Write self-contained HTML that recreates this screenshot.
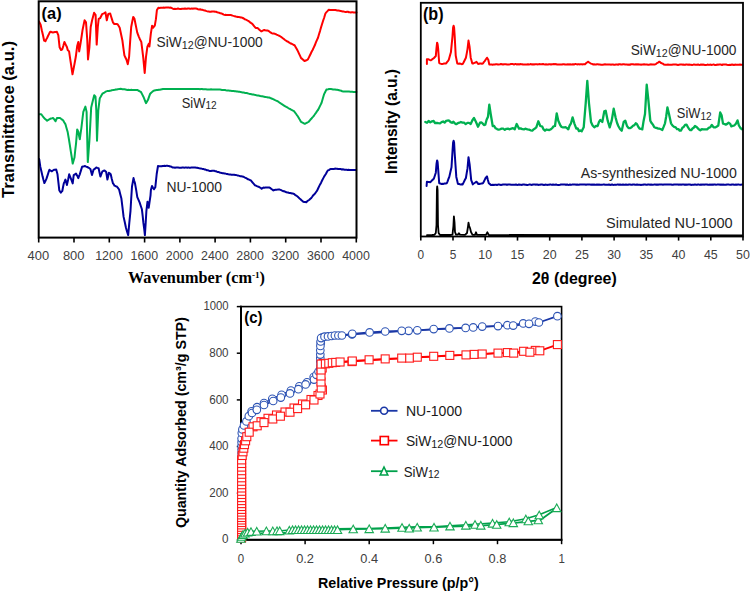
<!DOCTYPE html>
<html><head><meta charset="utf-8"><style>
html,body{margin:0;padding:0;background:#fff;width:750px;height:592px;overflow:hidden;font-family:"Liberation Sans",sans-serif;}
</style></head><body>
<svg width="750" height="592" viewBox="0 0 750 592" style="position:absolute;left:0;top:0">
<rect width="750" height="592" fill="#fff"/>
<polyline points="39.1,21.6 39.9,23.2 40.7,25.0 41.8,30.2 43.0,35.3 44.1,40.5 45.4,41.2 46.3,39.4 47.2,37.7 48.1,35.8 49.2,33.6 50.2,31.8 51.1,31.8 52.0,32.3 52.9,32.4 53.9,32.2 54.9,32.0 55.9,32.1 56.9,31.8 58.3,35.1 59.6,47.3 61.0,50.0 62.3,49.3 63.4,45.6 64.4,41.9 65.7,44.6 67.0,47.3 67.7,50.0 69.1,51.4 70.1,58.3 71.1,64.9 72.5,74.3 73.8,67.6 74.8,62.2 75.8,56.8 77.2,45.9 78.3,41.9 79.2,51.4 80.6,43.2 81.6,36.5 82.6,29.7 83.6,24.9 84.6,20.3 86.0,22.3 87.3,40.5 88.0,59.5 89.4,47.3 90.7,27.0 92.1,20.3 93.1,16.6 94.1,12.8 94.8,14.0 95.6,14.9 96.7,44.6 97.8,27.0 98.7,18.9 100.1,18.2 101.1,16.2 102.1,14.2 103.2,13.7 104.4,13.1 105.5,12.4 106.8,20.3 108.2,14.2 109.2,13.7 110.2,13.5 111.1,16.5 112.0,19.4 112.9,22.3 114.3,24.0 115.4,24.0 116.5,24.0 117.6,24.3 118.7,26.1 119.7,27.7 120.6,32.0 121.5,36.3 122.4,40.5 123.4,48.1 124.4,55.4 125.4,57.5 126.4,59.5 127.8,64.2 129.1,56.8 130.1,42.1 131.2,27.0 132.2,21.9 133.2,16.9 134.5,18.9 135.4,23.5 136.3,27.9 137.2,32.4 138.1,34.8 139.0,37.1 139.9,39.2 141.3,41.9 142.3,49.8 143.3,58.1 144.7,73.0 146.0,56.8 147.4,46.6 148.7,43.9 149.4,46.6 150.8,33.8 152.1,25.7 153.2,27.7 154.0,26.5 154.8,25.6 155.9,19.2 156.9,10.1 157.7,8.8 158.5,7.7 159.6,7.9 160.7,7.7 161.7,7.8 162.8,7.7 163.8,7.6 164.8,7.7 165.8,7.6 166.8,7.5 167.8,7.6 168.8,7.6 169.8,7.7 170.8,7.5 171.9,8.2 172.9,8.7 173.9,8.9 174.9,8.8 175.9,8.9 176.9,8.8 178.0,8.6 179.0,8.8 180.0,8.9 181.0,8.9 182.0,8.7 183.0,8.7 184.0,8.8 185.0,8.5 185.9,8.8 186.9,8.7 187.9,8.5 188.9,8.4 189.9,8.7 190.9,8.8 191.8,8.4 192.8,8.7 193.8,8.5 194.8,8.5 195.9,8.6 196.9,8.8 198.0,9.2 199.1,9.4 200.1,9.3 201.2,9.7 202.2,9.7 203.3,10.1 204.4,10.5 205.4,10.6 206.5,11.1 207.6,11.4 208.6,11.4 209.7,11.7 210.8,11.8 211.8,11.5 212.9,11.4 214.0,11.5 215.1,11.8 216.1,11.8 217.2,12.2 218.2,12.5 219.3,12.8 220.4,13.3 221.5,13.5 222.5,13.9 223.6,14.6 224.7,14.9 225.6,14.8 226.6,15.1 227.6,15.1 228.5,14.9 229.4,14.9 230.4,14.9 231.5,15.2 232.6,15.6 233.6,15.9 234.7,16.2 235.8,16.5 236.8,16.7 237.8,17.0 238.9,17.1 239.9,17.2 240.9,17.5 241.9,17.6 242.8,18.0 243.8,18.5 244.7,19.2 245.7,19.5 246.6,20.0 247.7,20.7 248.8,21.2 249.8,22.1 250.9,22.9 252.0,23.6 253.1,24.8 254.3,26.4 255.4,27.7 256.3,28.0 257.2,28.0 258.1,28.4 259.1,29.5 260.2,30.4 261.2,31.4 262.2,31.0 263.2,30.4 264.2,30.0 265.2,30.3 266.2,30.5 267.2,30.4 268.2,30.8 269.3,31.4 270.5,32.4 271.6,33.1 272.6,33.5 273.6,33.5 274.7,33.8 275.7,34.1 276.6,34.6 277.6,35.0 278.5,35.5 279.5,35.9 280.4,36.5 281.5,37.2 282.6,38.1 283.6,38.8 284.7,39.7 285.8,40.5 286.8,41.2 287.9,41.6 288.9,42.4 289.9,43.0 290.8,43.6 291.8,43.8 292.7,44.3 293.7,45.0 294.6,45.3 295.7,47.2 296.9,49.2 298.0,51.4 299.0,53.6 300.1,55.9 301.1,58.1 302.2,58.9 303.4,60.0 304.5,61.1 305.6,60.5 306.7,60.2 307.8,59.5 308.8,57.6 309.7,55.8 310.7,53.7 311.6,51.8 312.6,50.0 313.7,47.6 314.8,45.3 315.8,42.7 316.9,40.1 318.0,37.8 319.0,34.3 320.0,31.1 321.0,27.6 322.0,24.3 323.1,20.8 324.3,17.2 325.4,13.5 326.5,12.1 327.7,10.9 328.8,9.7 329.9,9.9 331.0,9.9 332.0,10.1 333.1,10.0 334.2,10.1 335.3,10.1 336.4,10.3 337.4,10.6 338.5,10.6 339.6,10.8 340.7,11.0 341.8,11.2 342.8,11.4 343.9,11.6 345.0,11.9 346.0,12.1 346.9,11.8 347.9,11.8 348.9,12.2 349.9,12.3 350.8,12.4 351.8,12.2 352.7,12.3 353.7,12.5 354.6,12.6 355.6,12.4 356.5,12.6" fill="none" stroke="#ff0000" stroke-width="2.0" stroke-linejoin="round" stroke-linecap="round"/>
<polyline points="39.5,114.2 40.4,114.2 41.3,114.2 42.2,115.5 43.2,116.8 44.1,118.0 45.1,118.9 46.1,119.8 47.1,120.7 48.1,120.0 49.2,119.4 50.2,118.8 51.2,118.4 52.2,118.3 53.2,118.0 54.4,119.6 55.5,121.3 56.2,119.7 57.0,118.0 58.0,117.9 59.0,118.1 60.0,118.0 61.0,118.8 62.1,119.6 63.1,120.3 64.2,122.3 65.4,124.1 66.5,128.0 67.6,131.7 68.8,138.5 69.9,145.3 70.8,151.3 71.8,157.5 72.7,163.6 73.6,160.5 74.5,157.5 75.2,150.6 76.0,143.8 77.2,129.4 78.3,131.7 79.0,135.5 79.8,139.3 80.5,134.0 81.3,128.6 82.3,120.2 83.3,111.9 84.3,109.3 85.4,106.6 86.6,111.9 87.8,162.1 88.6,151.5 89.4,140.8 90.3,124.1 91.2,107.4 92.2,103.3 93.2,99.3 94.2,95.2 95.5,96.7 96.3,110.4 97.0,140.8 98.3,110.4 99.0,104.3 99.8,98.2 100.7,96.8 101.5,95.2 102.4,93.7 103.4,93.1 104.3,92.6 105.2,92.0 106.2,91.4 107.2,91.1 108.1,91.1 109.0,90.9 110.0,90.7 111.0,90.5 111.9,90.2 112.8,90.1 113.8,89.9 114.8,89.8 115.7,89.5 116.7,89.4 117.7,89.2 118.7,89.1 119.6,88.9 120.6,88.8 121.6,89.0 122.5,89.2 123.5,89.2 124.5,89.3 125.5,89.5 126.4,89.7 127.4,89.9 128.4,89.8 129.4,90.0 130.4,90.0 131.4,89.8 132.4,89.9 133.3,89.9 134.3,89.9 135.3,89.9 136.3,89.9 137.3,89.9 138.2,90.5 139.2,91.0 140.2,91.6 141.1,92.2 142.2,94.4 143.4,96.7 144.3,98.8 145.1,101.0 146.0,103.1 147.0,101.5 148.0,99.8 149.1,96.7 150.2,93.7 151.2,92.7 152.3,91.8 153.3,90.9 154.4,90.5 155.6,90.2 156.7,90.1 157.7,90.0 158.8,89.7 159.8,89.7 160.8,89.5 161.9,89.3 162.9,89.1 164.0,89.0 165.0,89.0 166.0,89.0 167.0,89.0 168.0,89.0 169.0,89.0 170.0,88.9 171.0,89.0 172.0,89.0 173.0,88.9 174.0,89.0 175.0,89.0 176.0,89.1 177.0,89.1 178.0,89.0 179.0,89.1 180.0,89.1 181.0,89.0 182.0,89.0 183.0,88.9 184.0,89.1 185.0,89.0 186.0,89.1 187.0,89.1 188.0,89.0 189.0,89.0 190.0,89.0 191.0,88.9 192.0,89.0 193.0,89.0 194.0,88.9 195.0,89.0 196.0,89.1 197.0,89.0 198.0,89.0 199.0,89.1 200.0,89.2 201.0,89.1 202.0,89.1 203.0,89.3 204.0,89.2 205.0,89.3 206.0,89.3 207.0,89.4 208.0,89.4 209.0,89.4 210.0,89.4 211.0,89.3 212.0,89.5 213.0,89.5 214.0,89.5 215.0,89.4 216.0,89.6 217.0,89.6 218.0,89.5 219.0,89.5 220.0,89.6 221.0,89.7 222.0,89.9 222.9,89.9 223.9,90.0 224.9,90.1 225.9,90.3 226.9,90.4 227.8,90.5 228.8,90.6 229.8,90.7 230.8,90.8 231.8,90.9 232.7,90.9 233.7,91.1 234.7,91.3 235.7,91.3 236.7,91.5 237.6,91.5 238.6,91.7 239.6,91.8 240.6,92.1 241.6,92.2 242.6,92.4 243.6,92.6 244.5,92.8 245.5,93.1 246.5,93.1 247.5,93.3 248.5,93.6 249.5,93.9 250.5,94.0 251.5,94.2 252.4,94.4 253.4,94.5 254.4,94.8 255.4,94.9 256.4,95.2 257.4,95.4 258.3,95.5 259.3,95.7 260.3,96.0 261.3,96.2 262.2,96.3 263.2,96.5 264.2,96.7 265.1,96.9 266.1,97.1 267.1,97.2 268.1,97.4 269.0,97.5 270.0,97.8 271.0,98.3 272.1,98.7 273.1,99.1 274.1,99.6 275.1,100.1 276.2,100.6 277.2,101.0 278.2,101.6 279.3,102.5 280.3,103.1 281.3,103.8 282.3,104.4 283.4,105.2 284.4,105.8 285.4,106.4 286.3,106.9 287.3,107.4 288.2,108.0 289.2,108.6 290.2,109.0 291.1,109.6 292.1,110.2 293.0,110.7 294.0,111.2 294.9,112.3 295.8,113.5 296.7,114.8 297.6,116.0 298.5,117.5 299.4,119.1 300.3,120.6 301.2,122.0 302.1,122.4 303.0,122.8 303.9,123.3 304.8,123.8 305.7,123.3 306.6,122.9 307.5,122.5 308.4,122.0 309.4,121.0 310.3,119.8 311.3,118.8 312.2,117.6 313.2,116.6 314.2,115.3 315.1,114.0 316.1,112.6 317.0,111.2 318.0,110.0 318.9,108.3 319.8,106.4 320.7,104.6 321.6,102.8 322.8,98.6 324.0,94.4 325.2,92.0 326.4,89.6 327.3,89.4 328.2,89.3 329.1,89.1 330.0,89.0 331.0,89.1 332.1,89.2 333.1,89.4 334.1,89.5 335.1,89.5 336.2,89.7 337.2,89.8 338.2,90.0 339.2,90.3 340.2,90.6 341.2,90.8 342.2,91.2 343.2,91.4 344.2,91.5 345.2,91.4 346.2,91.6 347.2,91.5 348.2,91.6 349.2,91.6 350.2,91.7 351.3,91.7 352.3,91.8 353.3,91.9 354.3,91.9 355.4,91.9 356.4,92.0" fill="none" stroke="#00b050" stroke-width="2.0" stroke-linejoin="round" stroke-linecap="round"/>
<polyline points="39.2,159.1 40.3,166.7 41.5,171.8 42.6,176.6 43.5,180.0 44.4,183.1 45.4,181.1 46.4,178.9 47.4,175.9 48.4,172.7 49.4,169.8 50.5,170.5 51.7,171.3 52.9,170.5 54.0,169.8 55.1,169.7 56.2,169.5 57.5,174.3 58.4,182.4 59.3,190.3 60.0,191.5 60.8,192.6 61.5,191.7 62.3,191.0 63.0,187.3 63.8,183.4 64.6,181.6 65.4,179.6 66.2,182.2 66.9,185.0 68.1,179.8 69.2,174.3 70.0,176.3 70.7,178.1 71.7,180.6 72.7,183.4 73.7,175.1 74.8,174.5 76.0,173.6 77.2,175.7 78.3,178.1 79.0,176.1 79.8,174.3 80.9,170.6 82.1,166.7 83.1,166.5 84.1,166.3 85.1,166.0 86.1,166.6 87.2,167.0 88.2,167.5 89.3,168.2 90.4,169.0 91.2,171.9 92.0,175.1 92.8,172.3 93.5,169.8 94.4,169.1 95.4,168.4 96.3,167.5 97.4,167.9 98.6,168.2 99.5,172.5 100.4,176.6 101.4,173.9 102.4,171.3 103.5,170.8 104.6,170.5 105.4,171.2 106.2,172.0 107.4,179.6 108.2,176.3 108.9,172.8 109.8,173.4 110.7,174.3 111.8,178.9 113.0,183.4 113.8,184.4 114.5,185.7 115.7,186.2 116.8,186.5 117.9,187.9 119.1,189.5 120.2,194.0 121.4,198.6 122.5,207.7 123.6,216.9 124.8,222.2 125.9,227.5 127.0,231.4 128.2,235.1 129.3,222.9 130.5,210.8 131.2,198.8 132.0,186.5 132.8,182.1 133.5,178.1 134.2,180.7 135.0,183.4 136.2,190.1 137.3,197.1 138.4,199.6 139.6,202.4 140.8,206.0 141.9,209.3 142.7,216.2 143.4,222.9 144.2,228.9 144.9,235.1 145.7,222.8 146.4,210.8 147.5,201.7 148.7,207.8 149.6,201.7 150.5,195.6 150.9,190.0 152.0,186.0 153.0,187.7 154.0,189.3 155.3,187.3 156.7,174.0 158.0,166.0 158.9,166.2 159.8,166.3 160.7,166.3 161.6,166.3 162.6,166.0 163.5,166.0 164.5,165.8 165.4,165.9 166.4,165.8 167.3,165.7 168.3,165.9 169.2,166.1 170.2,166.6 171.1,166.6 172.1,167.2 173.0,167.5 174.0,167.6 175.0,167.8 176.1,167.6 177.1,167.6 178.1,167.6 179.2,167.7 180.2,167.8 181.2,167.7 182.3,167.5 183.3,167.6 184.3,167.7 185.3,167.6 186.3,167.6 187.3,167.7 188.3,167.4 189.3,167.7 190.3,167.7 191.3,167.6 192.3,167.6 193.3,167.6 194.3,167.5 195.3,167.6 196.3,167.8 197.3,167.7 198.3,168.1 199.3,168.3 200.3,168.4 201.3,168.6 202.3,168.9 203.3,168.9 204.3,169.4 205.2,169.4 206.2,170.0 207.1,170.2 208.1,170.3 209.0,170.7 210.0,171.1 211.0,170.9 212.0,170.7 213.0,170.8 214.0,170.7 215.0,171.2 215.9,171.2 216.9,171.7 217.8,171.9 218.8,172.0 219.7,172.6 220.7,172.7 221.6,172.9 222.6,173.2 223.5,173.3 224.5,173.5 225.4,173.6 226.4,173.9 227.3,174.0 228.3,174.3 229.3,174.4 230.3,174.4 231.3,174.7 232.3,174.7 233.3,174.7 234.3,174.8 235.3,175.1 236.3,175.1 237.3,175.4 238.3,175.6 239.3,175.9 240.3,176.2 241.3,176.3 242.3,176.5 243.3,176.7 244.2,177.2 245.0,177.6 246.0,178.0 247.0,178.6 248.1,179.3 249.1,179.6 250.1,180.1 251.1,180.7 252.1,182.0 253.1,183.1 254.0,184.1 255.0,185.3 255.9,185.6 256.9,186.1 257.9,186.5 258.8,186.8 259.7,187.4 260.7,187.9 261.6,188.8 262.5,188.1 263.4,187.6 264.4,187.7 265.4,187.5 266.4,187.6 267.5,187.5 268.5,187.5 269.5,187.6 270.5,188.2 271.4,189.0 272.4,189.6 273.4,190.4 274.5,190.0 275.5,189.8 276.6,189.7 277.6,189.6 278.7,189.4 279.7,189.6 280.6,189.9 281.6,190.4 282.5,190.8 283.5,191.2 284.5,191.3 285.4,191.8 286.4,192.2 287.4,192.4 288.3,192.5 289.3,193.1 290.2,193.0 291.2,193.2 292.2,193.5 293.1,193.6 294.1,194.0 295.0,194.8 295.9,195.4 296.9,196.0 297.8,196.7 298.7,197.6 299.6,198.5 300.5,199.2 301.5,200.2 302.4,200.9 303.3,201.7 304.3,202.0 305.3,202.0 306.3,202.2 307.2,201.3 308.2,200.5 309.1,200.0 310.1,199.1 311.0,198.3 312.0,197.0 313.0,195.6 314.1,194.6 315.1,193.4 316.1,192.0 317.1,190.7 318.1,188.5 319.1,186.4 320.1,184.4 321.2,182.4 322.2,180.3 323.2,178.4 324.1,176.6 325.0,175.3 326.0,173.8 326.9,171.9 327.8,170.4 328.8,170.1 329.9,169.4 330.9,168.9 331.9,169.0 332.9,169.0 333.9,169.0 335.0,168.6 336.0,168.7 337.0,168.7 338.0,168.9 338.9,169.1 339.9,168.9 340.9,169.1 341.8,169.5 342.8,169.3 343.7,169.5 344.7,169.7 345.7,169.7 346.6,169.8 347.6,169.9 348.5,169.7 349.5,169.9 350.4,169.9 351.4,170.0 352.4,169.9 353.3,170.1 354.3,169.9 355.2,169.9 356.2,170.0" fill="none" stroke="#000099" stroke-width="2.0" stroke-linejoin="round" stroke-linecap="round"/>
<rect x="38.7" y="1.3" width="317.8" height="236.3" fill="none" stroke="#000" stroke-width="2"/>
<line x1="38.7" y1="237.6" x2="38.7" y2="242.5" stroke="#000" stroke-width="1.6"/>
<text x="38.4" y="260.2" font-family="Liberation Sans" font-size="13.00" font-weight="normal" fill="#404040" text-anchor="middle" textLength="21.6" lengthAdjust="spacingAndGlyphs">400</text>
<line x1="74.0" y1="237.6" x2="74.0" y2="242.5" stroke="#000" stroke-width="1.6"/>
<text x="73.7" y="260.2" font-family="Liberation Sans" font-size="13.00" font-weight="normal" fill="#404040" text-anchor="middle" textLength="21.6" lengthAdjust="spacingAndGlyphs">800</text>
<line x1="109.3" y1="237.6" x2="109.3" y2="242.5" stroke="#000" stroke-width="1.6"/>
<text x="109.0" y="260.2" font-family="Liberation Sans" font-size="13.00" font-weight="normal" fill="#404040" text-anchor="middle" textLength="27.6" lengthAdjust="spacingAndGlyphs">1200</text>
<line x1="144.6" y1="237.6" x2="144.6" y2="242.5" stroke="#000" stroke-width="1.6"/>
<text x="144.3" y="260.2" font-family="Liberation Sans" font-size="13.00" font-weight="normal" fill="#404040" text-anchor="middle" textLength="27.6" lengthAdjust="spacingAndGlyphs">1600</text>
<line x1="179.9" y1="237.6" x2="179.9" y2="242.5" stroke="#000" stroke-width="1.6"/>
<text x="179.6" y="260.2" font-family="Liberation Sans" font-size="13.00" font-weight="normal" fill="#404040" text-anchor="middle" textLength="27.6" lengthAdjust="spacingAndGlyphs">2000</text>
<line x1="215.1" y1="237.6" x2="215.1" y2="242.5" stroke="#000" stroke-width="1.6"/>
<text x="214.8" y="260.2" font-family="Liberation Sans" font-size="13.00" font-weight="normal" fill="#404040" text-anchor="middle" textLength="27.6" lengthAdjust="spacingAndGlyphs">2400</text>
<line x1="250.4" y1="237.6" x2="250.4" y2="242.5" stroke="#000" stroke-width="1.6"/>
<text x="250.1" y="260.2" font-family="Liberation Sans" font-size="13.00" font-weight="normal" fill="#404040" text-anchor="middle" textLength="27.6" lengthAdjust="spacingAndGlyphs">2800</text>
<line x1="285.7" y1="237.6" x2="285.7" y2="242.5" stroke="#000" stroke-width="1.6"/>
<text x="285.4" y="260.2" font-family="Liberation Sans" font-size="13.00" font-weight="normal" fill="#404040" text-anchor="middle" textLength="27.6" lengthAdjust="spacingAndGlyphs">3200</text>
<line x1="321.0" y1="237.6" x2="321.0" y2="242.5" stroke="#000" stroke-width="1.6"/>
<text x="320.7" y="260.2" font-family="Liberation Sans" font-size="13.00" font-weight="normal" fill="#404040" text-anchor="middle" textLength="27.6" lengthAdjust="spacingAndGlyphs">3600</text>
<line x1="356.3" y1="237.6" x2="356.3" y2="242.5" stroke="#000" stroke-width="1.6"/>
<text x="356.0" y="260.2" font-family="Liberation Sans" font-size="13.00" font-weight="normal" fill="#404040" text-anchor="middle" textLength="27.6" lengthAdjust="spacingAndGlyphs">4000</text>
<text x="41.6" y="18.9" font-family="Liberation Sans" font-size="17.20" font-weight="bold" fill="#000" text-anchor="start" textLength="20.0" lengthAdjust="spacingAndGlyphs">(a)</text>
<text x="156.6" y="47.3" font-family="Liberation Sans" font-size="13.40" font-weight="normal" fill="#000" text-anchor="start"></text>
<text x="156.6" y="47.4" font-family="Liberation Sans" font-size="13.90" font-weight="normal" fill="#262626" text-anchor="start" textLength="106.1" lengthAdjust="spacingAndGlyphs"><tspan>SiW</tspan><tspan font-size="10.84" dy="1.7">12</tspan><tspan dy="-1.7">@NU-1000</tspan></text>
<text x="181.7" y="107.6" font-family="Liberation Sans" font-size="13.90" font-weight="normal" fill="#262626" text-anchor="start" textLength="35.0" lengthAdjust="spacingAndGlyphs"><tspan>SiW</tspan><tspan font-size="10.84" dy="1.7">12</tspan></text>
<text x="166.5" y="191.8" font-family="Liberation Sans" font-size="13.90" font-weight="normal" fill="#262626" text-anchor="start" textLength="55.5" lengthAdjust="spacingAndGlyphs">NU-1000</text>
<text x="128.0" y="282.5" font-family="Liberation Serif" font-size="16.00" font-weight="bold" fill="#000" text-anchor="start" textLength="137.0" lengthAdjust="spacingAndGlyphs">Wavenumber (cm<tspan font-size="9" dy="-5">-1</tspan><tspan dy="5">)</tspan></text>
<text x="13.6" y="198.0" font-family="Liberation Sans" font-size="16.70" font-weight="bold" fill="#000" text-anchor="start" textLength="157.0" lengthAdjust="spacingAndGlyphs" transform="rotate(-90 13.6 198.0)">Transmittance (a.u.)</text>
<polyline points="426.9,64.1 426.9,59.3 427.7,59.2 428.5,59.3 429.6,59.9 430.7,60.3 431.8,59.6 432.8,58.8 433.9,58.2 434.9,57.0 435.8,56.1 436.5,48.0 437.1,42.7 437.6,44.0 438.1,48.1 439.2,63.0 440.2,63.6 441.3,63.9 442.3,63.9 443.2,63.8 444.2,63.6 445.1,63.6 446.1,63.5 447.0,62.1 447.9,61.1 448.8,59.8 449.9,55.8 450.9,52.3 451.7,44.3 452.5,36.3 453.1,27.5 453.6,25.7 454.1,27.5 454.7,36.3 455.7,55.5 456.5,59.6 457.3,63.5 458.4,63.7 459.5,63.5 460.5,63.7 461.6,64.2 462.7,64.1 463.8,62.0 464.8,60.0 465.9,57.7 466.7,53.6 467.5,49.1 468.5,40.6 469.6,47.0 470.7,57.7 471.5,60.6 472.3,63.5 473.4,63.4 474.4,62.9 475.5,62.5 476.5,61.9 477.3,62.8 478.1,63.9 479.1,63.8 480.0,63.5 481.0,63.6 481.9,63.8 482.9,63.5 483.8,62.1 484.7,61.1 485.6,59.8 487.0,57.7 488.3,59.8 489.3,64.6 490.4,64.4 491.5,64.4 492.5,64.7 493.6,64.5 494.7,64.6 495.8,64.3 496.8,64.3 497.9,64.5 498.9,64.4 500.0,64.3 501.0,64.1 502.0,64.2 503.0,64.5 504.0,64.2 505.0,64.3 506.0,64.3 507.0,64.4 508.0,64.4 509.0,64.4 510.0,64.3 511.0,64.1 512.0,64.1 513.0,64.1 514.0,64.5 515.0,64.1 516.0,64.1 517.0,64.5 518.0,64.1 519.0,64.5 520.0,64.1 521.0,64.3 522.0,64.2 523.0,64.5 524.0,64.4 525.0,64.4 526.0,64.4 527.0,64.5 528.0,64.2 529.0,64.4 530.0,64.3 531.0,64.1 532.0,64.5 533.0,64.3 534.0,64.5 535.0,64.2 536.0,64.3 537.0,64.3 538.0,64.4 539.0,64.1 540.0,64.3 541.0,64.2 542.0,64.3 543.0,64.1 544.0,64.3 545.0,64.4 546.0,64.3 547.0,64.4 548.0,64.4 549.0,64.2 550.0,64.2 551.0,64.5 552.0,64.2 553.0,64.3 554.0,64.1 555.0,64.2 556.0,64.1 557.0,64.5 558.0,64.4 559.0,64.5 560.0,64.5 561.0,64.4 562.0,64.5 563.0,64.3 564.0,64.3 565.0,64.5 566.0,64.5 567.0,64.5 568.0,64.3 569.0,64.4 570.0,64.3 571.0,64.5 572.0,64.5 573.0,64.2 574.0,64.5 575.0,64.1 576.0,64.1 577.0,64.4 578.0,64.2 579.0,64.3 580.0,64.4 581.0,64.1 582.0,64.4 583.0,64.2 584.0,64.3 585.0,64.3 586.0,63.3 587.0,62.5 588.3,61.7 589.1,62.5 590.0,63.0 591.0,63.6 592.0,63.9 593.0,64.5 594.0,64.3 595.0,64.4 596.0,64.5 597.0,64.3 598.0,64.3 599.0,64.6 600.0,64.6 601.0,64.7 602.0,64.7 603.0,64.7 604.0,64.4 605.0,64.3 606.0,64.4 607.0,64.5 608.0,64.5 609.0,64.5 610.0,64.4 611.0,64.7 612.0,64.4 613.0,64.5 614.0,64.7 615.0,64.7 616.0,64.4 617.0,64.4 618.0,64.7 619.0,64.3 620.0,64.3 621.0,64.5 622.0,64.5 623.0,64.3 624.0,64.3 625.0,64.4 626.0,64.6 627.0,64.5 628.0,64.7 629.0,64.6 630.0,64.7 631.0,64.3 632.0,64.3 633.0,64.3 634.0,64.5 635.0,64.4 636.0,64.3 637.0,64.5 638.0,64.3 639.0,64.4 640.0,64.4 641.0,64.7 642.0,64.5 643.0,64.4 644.0,64.3 645.0,64.5 646.0,64.6 647.0,64.6 648.0,64.7 649.0,64.7 650.0,64.4 651.0,64.3 652.0,64.6 653.0,64.6 654.0,64.5 655.0,64.5 656.2,63.8 657.5,62.8 658.4,62.3 659.3,61.7 660.1,62.2 661.0,63.0 662.0,63.4 663.0,63.8 664.0,64.6 665.0,64.7 666.0,64.8 667.0,64.8 668.0,64.6 669.0,64.7 670.0,64.8 671.0,64.8 672.0,64.7 673.0,64.6 674.0,64.6 675.0,64.5 676.0,64.5 677.0,64.7 678.0,64.9 679.0,64.7 680.0,64.6 681.0,64.6 682.0,64.6 683.0,64.8 684.0,64.6 685.0,64.9 686.0,64.5 687.0,64.6 688.0,64.7 689.0,64.6 690.0,64.8 691.0,64.8 692.0,64.9 693.0,64.7 694.0,64.4 695.0,64.7 696.0,64.7 697.0,64.7 698.0,64.6 699.0,64.8 700.0,64.9 701.0,64.5 702.0,64.8 703.0,64.6 704.0,64.7 705.0,64.9 706.0,64.9 707.0,64.8 708.0,64.6 709.0,64.9 710.0,64.6 711.0,64.7 712.0,64.9 713.0,64.6 714.0,64.6 715.0,65.0 716.0,65.0 717.0,64.6 718.0,64.7 719.0,64.6 720.0,64.6 721.0,64.6 722.0,65.0 723.0,64.5 724.0,64.6 725.0,64.6 726.0,64.5 727.0,64.8 728.0,64.9 729.0,64.9 730.0,64.8 731.0,64.9 732.0,64.5 733.0,64.7 734.0,65.0 735.0,64.6 736.0,64.7 737.0,64.8 738.0,64.7 739.0,64.8 740.0,64.6 741.0,64.7 742.0,64.8" fill="none" stroke="#ff0000" stroke-width="2.0" stroke-linejoin="round" stroke-linecap="round"/>
<polyline points="425.3,122.0 427.0,122.8 428.6,120.9 430.3,122.4 432.0,121.3 433.6,121.0 435.2,123.2 436.8,122.9 438.4,123.2 440.0,123.3 441.6,122.1 443.1,121.5 444.6,122.6 446.2,120.9 447.8,120.5 449.3,120.7 450.6,122.1 452.0,122.8 453.4,121.7 454.7,123.3 456.2,124.2 457.8,123.2 459.4,122.7 460.9,122.0 462.4,122.6 464.0,122.7 465.7,124.1 467.4,122.9 469.0,122.9 470.7,124.0 472.4,120.2 474.0,118.0 476.0,122.0 478.0,126.7 480.0,122.7 481.3,122.4 482.6,123.4 484.0,125.1 485.3,124.7 486.6,119.8 488.0,116.7 489.3,104.7 490.7,114.0 492.7,126.0 494.2,126.0 495.6,128.3 497.1,129.1 498.5,129.7 500.0,129.3 501.6,128.6 503.2,128.7 504.8,129.9 506.4,128.8 508.0,128.7 509.7,129.3 511.4,128.6 513.0,128.1 514.7,129.3 516.7,124.0 518.7,128.0 519.0,128.7 520.7,128.4 522.4,129.2 524.0,129.3 525.7,128.7 527.4,129.4 529.0,129.6 530.6,130.3 532.3,130.7 533.6,129.4 535.0,128.5 536.3,127.3 538.3,121.3 540.3,126.0 542.3,126.7 543.6,129.4 545.0,130.7 546.5,129.5 547.9,129.8 549.4,130.0 550.8,129.3 552.3,128.0 553.6,126.3 555.0,126.0 556.7,113.3 558.3,120.7 560.3,125.3 561.6,127.0 563.0,127.4 564.3,127.3 565.6,127.2 567.0,128.1 568.3,129.3 569.6,125.6 571.0,123.3 572.6,117.3 574.3,123.3 576.3,128.7 577.6,128.4 579.0,131.1 580.4,130.5 581.7,131.3 583.7,127.3 585.7,103.3 587.3,80.9 589.0,103.3 591.0,122.0 592.6,125.5 594.3,127.3 596.0,125.8 597.7,126.0 599.0,121.9 600.3,120.0 602.3,122.0 604.3,111.3 605.7,110.7 607.7,120.7 609.7,127.3 611.7,120.7 613.7,108.7 615.7,118.0 617.0,122.8 618.3,126.0 620.0,129.0 621.7,130.7 623.7,122.0 625.3,120.7 627.0,126.0 628.6,128.1 630.3,128.0 631.6,127.2 633.0,125.7 634.4,125.1 635.7,123.3 637.0,124.2 638.4,127.0 639.7,128.7 641.0,128.9 642.3,129.3 643.6,120.9 645.0,114.0 646.7,84.7 648.3,99.3 650.3,120.7 651.6,123.1 653.0,124.7 654.3,127.3 655.6,127.8 657.0,128.0 658.3,128.7 659.6,128.7 661.0,129.3 662.3,130.0 663.6,126.9 665.0,123.3 666.2,116.4 667.4,107.3 669.0,114.0 671.0,123.3 672.6,125.6 674.1,126.8 675.7,127.3 677.0,129.2 678.4,129.1 679.7,130.7 681.0,130.5 682.4,127.7 683.7,126.9 685.1,124.9 686.5,124.6 687.7,126.7 688.9,128.8 690.0,130.0 691.2,130.2 692.5,128.5 693.7,127.7 695.0,126.0 696.9,127.2 698.7,129.3 700.3,130.3 701.8,129.2 703.4,129.3 705.2,129.3 707.1,129.3 708.7,127.9 710.2,127.3 711.8,125.0 713.6,127.3 715.5,127.4 716.9,126.5 718.3,125.5 720.2,112.4 721.6,115.2 723.0,123.6 724.4,124.0 725.8,124.6 727.2,123.9 728.6,122.7 730.0,123.6 731.4,126.4 732.8,125.8 734.2,125.5 735.9,123.7 737.5,120.4 738.9,125.5 740.7,128.3 742.1,129.3" fill="none" stroke="#00b050" stroke-width="2.3" stroke-linejoin="round" stroke-linecap="round"/>
<polyline points="426.6,186.0 426.9,181.7 428.0,182.0 429.0,181.9 430.1,182.3 431.1,181.5 432.0,180.3 432.9,179.7 433.9,178.5 434.9,175.5 435.8,172.7 436.5,164.0 437.1,160.4 437.6,162.0 438.1,168.4 439.2,183.3 440.2,183.5 441.3,183.9 442.4,183.8 443.5,183.9 444.5,183.5 445.6,183.6 446.7,183.3 447.6,181.3 448.4,179.0 449.3,176.9 450.4,172.0 451.5,167.3 452.5,151.3 453.1,142.5 453.6,140.7 454.1,142.5 454.7,153.5 455.5,165.2 456.3,176.9 457.1,180.3 457.9,183.9 458.9,183.9 459.8,184.2 460.8,184.4 461.7,184.3 462.7,184.4 463.8,182.1 464.8,180.0 465.9,178.0 466.7,173.1 467.5,168.4 468.5,157.2 469.6,164.1 470.4,172.2 471.2,180.1 472.0,182.1 472.8,184.4 473.7,183.5 474.6,183.0 475.6,182.3 476.5,181.7 477.3,182.6 478.1,183.9 479.1,183.8 480.0,183.9 481.0,183.6 481.9,183.5 482.9,183.3 483.8,181.7 484.7,179.9 485.6,178.0 487.0,176.4 487.9,180.1 488.8,183.3 489.9,184.1 490.9,184.9 491.9,185.0 492.9,184.7 493.9,185.0 494.9,184.8 496.0,184.8 497.0,185.0 498.0,184.6 499.0,184.6 500.0,184.7 501.0,184.9 502.0,184.7 503.0,184.5 504.0,184.5 505.0,184.6 506.0,184.5 507.0,184.9 508.0,184.5 509.0,184.6 510.0,184.6 511.0,184.7 512.0,184.7 513.0,184.8 514.0,184.8 515.0,184.7 516.0,184.5 517.0,184.9 518.0,184.8 519.0,184.5 520.0,184.7 521.0,184.8 522.0,184.9 523.0,184.5 524.0,184.4 525.0,184.7 526.0,184.7 527.0,184.9 528.0,184.9 529.0,184.6 530.0,184.6 531.0,184.7 532.0,184.9 533.0,184.5 534.0,184.6 535.0,184.5 536.0,184.8 537.0,184.4 538.0,184.9 539.0,184.7 540.0,184.7 541.0,184.5 542.0,184.5 543.0,184.7 544.0,184.9 545.0,184.7 546.0,184.6 547.0,184.9 548.0,184.8 549.0,184.7 550.0,184.5 551.0,184.6 552.0,184.9 553.0,184.5 554.0,184.7 555.0,184.7 556.0,184.6 557.0,184.8 558.0,184.9 559.0,184.9 560.0,184.8 561.0,184.5 562.0,184.5 563.0,184.6 564.0,184.6 565.0,184.5 566.0,184.9 567.0,184.5 568.0,184.8 569.0,184.9 570.0,184.5 571.0,184.9 572.0,184.6 573.0,184.5 574.0,184.5 575.0,184.4 576.0,184.7 577.0,184.6 578.0,184.8 579.0,184.8 580.0,184.4 581.0,184.6 582.0,184.6 583.0,184.5 584.0,184.5 585.0,184.5 586.0,184.8 587.0,184.6 588.0,184.5 589.0,184.5 590.0,184.6 591.0,184.7 592.0,184.5 593.0,184.8 594.0,184.5 595.0,184.7 596.0,184.7 597.0,184.5 598.0,184.8 599.0,184.6 600.0,184.7 601.0,184.7 602.0,184.7 603.0,184.6 604.0,184.4 605.0,184.8 606.0,184.8 607.0,184.7 608.0,184.7 609.0,184.5 610.0,184.9 611.0,184.7 612.0,184.5 613.0,184.8 614.0,184.9 615.0,184.6 616.0,184.9 617.0,184.6 618.0,184.5 619.0,184.8 620.0,184.6 621.0,184.8 622.0,184.7 623.0,184.5 624.0,184.7 625.0,184.8 626.0,184.6 627.0,184.7 628.0,184.8 629.0,184.6 630.0,184.6 631.0,184.7 632.0,184.8 633.0,184.5 634.0,184.4 635.0,184.8 636.0,184.7 637.0,184.5 638.0,184.8 639.0,184.8 640.0,184.7 641.0,184.9 642.0,184.8 643.0,184.8 644.0,184.5 645.0,184.4 646.0,184.7 647.0,184.8 648.0,184.6 649.0,184.6 650.0,184.7 651.0,184.5 652.0,184.7 653.0,184.7 654.0,184.6 655.0,184.4 656.0,184.7 657.0,184.5 658.0,184.7 659.0,184.5 660.0,184.6 661.0,184.5 662.0,184.6 663.0,184.7 664.0,184.4 665.0,184.4 666.0,184.6 667.0,184.5 668.0,184.6 669.0,184.5 670.0,184.4 671.0,184.6 672.0,184.8 673.0,184.8 674.0,184.6 675.0,184.6 676.0,184.4 677.0,184.5 678.0,184.5 679.0,184.8 680.0,184.4 681.0,184.8 682.0,184.6 683.0,184.6 684.0,184.5 685.0,184.9 686.0,184.5 687.0,184.7 688.0,184.6 689.0,184.5 690.0,184.5 691.0,184.9 692.0,184.8 693.0,184.7 694.0,184.8 695.0,184.4 696.0,184.7 697.0,184.7 698.0,184.5 699.0,184.6 700.0,184.9 701.0,184.5 702.0,184.7 703.0,184.4 704.0,184.7 705.0,184.5 706.0,184.6 707.0,184.6 708.0,184.8 709.0,184.7 710.0,184.6 711.0,184.7 712.0,184.6 713.0,184.8 714.0,184.5 715.0,184.6 716.0,184.7 717.0,184.6 718.0,184.4 719.0,184.4 720.0,184.7 721.0,184.5 722.0,184.7 723.0,184.6 724.0,184.8 725.0,184.8 726.0,184.7 727.0,184.5 728.0,184.4 729.0,184.6 730.0,184.7 731.0,184.8 732.0,184.5 733.0,184.4 734.0,184.8 735.0,184.7 736.0,184.6 737.0,184.7 738.0,184.4 739.0,184.6 740.0,184.7 741.0,184.7 742.0,184.6" fill="none" stroke="#000099" stroke-width="2.0" stroke-linejoin="round" stroke-linecap="round"/>
<polyline points="427.0,235.2 432.0,235.0 434.5,234.8 435.8,233.0 436.5,225.0 436.9,190.0 437.2,186.4 437.6,190.0 438.0,225.0 438.6,233.0 440.0,235.0 450.0,235.0 452.5,234.6 453.4,226.0 453.9,216.3 454.5,222.0 455.0,232.0 456.0,234.6 458.0,234.5 458.9,233.2 460.0,234.6 465.0,234.8 467.0,233.0 467.8,228.0 468.5,222.7 469.2,226.0 470.0,228.0 471.0,232.0 472.5,234.8 475.0,234.8 476.0,232.3 477.0,234.9 486.0,234.9 487.4,232.3 488.8,235.0 742.0,235.3" fill="none" stroke="#000" stroke-width="1.8" stroke-linejoin="round" stroke-linecap="round"/>
<rect x="420.8" y="2.8" width="322.2" height="233.7" fill="none" stroke="#000" stroke-width="1.8"/>
<line x1="420.8" y1="236.5" x2="420.8" y2="240.6" stroke="#000" stroke-width="1.6"/>
<text x="420.8" y="259.2" font-family="Liberation Sans" font-size="12.40" font-weight="normal" fill="#404040" text-anchor="middle" textLength="6.6" lengthAdjust="spacingAndGlyphs">0</text>
<line x1="453.0" y1="236.5" x2="453.0" y2="240.6" stroke="#000" stroke-width="1.6"/>
<text x="453.0" y="259.2" font-family="Liberation Sans" font-size="12.40" font-weight="normal" fill="#404040" text-anchor="middle" textLength="6.6" lengthAdjust="spacingAndGlyphs">5</text>
<line x1="485.2" y1="236.5" x2="485.2" y2="240.6" stroke="#000" stroke-width="1.6"/>
<text x="485.2" y="259.2" font-family="Liberation Sans" font-size="12.40" font-weight="normal" fill="#404040" text-anchor="middle" textLength="13.8" lengthAdjust="spacingAndGlyphs">10</text>
<line x1="517.5" y1="236.5" x2="517.5" y2="240.6" stroke="#000" stroke-width="1.6"/>
<text x="517.5" y="259.2" font-family="Liberation Sans" font-size="12.40" font-weight="normal" fill="#404040" text-anchor="middle" textLength="13.8" lengthAdjust="spacingAndGlyphs">15</text>
<line x1="549.7" y1="236.5" x2="549.7" y2="240.6" stroke="#000" stroke-width="1.6"/>
<text x="549.7" y="259.2" font-family="Liberation Sans" font-size="12.40" font-weight="normal" fill="#404040" text-anchor="middle" textLength="13.8" lengthAdjust="spacingAndGlyphs">20</text>
<line x1="581.9" y1="236.5" x2="581.9" y2="240.6" stroke="#000" stroke-width="1.6"/>
<text x="581.9" y="259.2" font-family="Liberation Sans" font-size="12.40" font-weight="normal" fill="#404040" text-anchor="middle" textLength="13.8" lengthAdjust="spacingAndGlyphs">25</text>
<line x1="614.1" y1="236.5" x2="614.1" y2="240.6" stroke="#000" stroke-width="1.6"/>
<text x="614.1" y="259.2" font-family="Liberation Sans" font-size="12.40" font-weight="normal" fill="#404040" text-anchor="middle" textLength="13.8" lengthAdjust="spacingAndGlyphs">30</text>
<line x1="646.3" y1="236.5" x2="646.3" y2="240.6" stroke="#000" stroke-width="1.6"/>
<text x="646.3" y="259.2" font-family="Liberation Sans" font-size="12.40" font-weight="normal" fill="#404040" text-anchor="middle" textLength="13.8" lengthAdjust="spacingAndGlyphs">35</text>
<line x1="678.6" y1="236.5" x2="678.6" y2="240.6" stroke="#000" stroke-width="1.6"/>
<text x="678.6" y="259.2" font-family="Liberation Sans" font-size="12.40" font-weight="normal" fill="#404040" text-anchor="middle" textLength="13.8" lengthAdjust="spacingAndGlyphs">40</text>
<line x1="710.8" y1="236.5" x2="710.8" y2="240.6" stroke="#000" stroke-width="1.6"/>
<text x="710.8" y="259.2" font-family="Liberation Sans" font-size="12.40" font-weight="normal" fill="#404040" text-anchor="middle" textLength="13.8" lengthAdjust="spacingAndGlyphs">45</text>
<line x1="743.0" y1="236.5" x2="743.0" y2="240.6" stroke="#000" stroke-width="1.6"/>
<text x="743.0" y="259.2" font-family="Liberation Sans" font-size="12.40" font-weight="normal" fill="#404040" text-anchor="middle" textLength="13.8" lengthAdjust="spacingAndGlyphs">50</text>
<text x="423.0" y="19.5" font-family="Liberation Sans" font-size="17.60" font-weight="bold" fill="#000" text-anchor="start" textLength="20.6" lengthAdjust="spacingAndGlyphs">(b)</text>
<text x="630.7" y="55.4" font-family="Liberation Sans" font-size="13.90" font-weight="normal" fill="#262626" text-anchor="start" textLength="105.8" lengthAdjust="spacingAndGlyphs"><tspan>SiW</tspan><tspan font-size="10.84" dy="1.7">12</tspan><tspan dy="-1.7">@NU-1000</tspan></text>
<text x="676.8" y="117.9" font-family="Liberation Sans" font-size="13.90" font-weight="normal" fill="#262626" text-anchor="start" textLength="34.8" lengthAdjust="spacingAndGlyphs"><tspan>SiW</tspan><tspan font-size="10.84" dy="1.7">12</tspan></text>
<text x="580.8" y="178.1" font-family="Liberation Sans" font-size="13.90" font-weight="normal" fill="#262626" text-anchor="start" textLength="156.0" lengthAdjust="spacingAndGlyphs">As-synthesized NU-1000</text>
<text x="606.0" y="228.0" font-family="Liberation Sans" font-size="13.90" font-weight="normal" fill="#262626" text-anchor="start" textLength="126.7" lengthAdjust="spacingAndGlyphs">Simulated NU-1000</text>
<text x="532.0" y="284.0" font-family="Liberation Sans" font-size="16.30" font-weight="bold" fill="#000" text-anchor="start" textLength="84.7" lengthAdjust="spacingAndGlyphs">2θ (degree)</text>
<text x="396.7" y="174.0" font-family="Liberation Sans" font-size="15.70" font-weight="bold" fill="#000" text-anchor="start" textLength="105.0" lengthAdjust="spacingAndGlyphs" transform="rotate(-90 396.7 174.0)">Intensity (a.u.)</text>
<rect x="241" y="306.6" width="320.6" height="233.2" fill="none" stroke="#000" stroke-width="1.6"/>
<line x1="241" y1="305.8" x2="241" y2="540.6" stroke="#000" stroke-width="2"/>
<line x1="240.2" y1="539.8" x2="562.4" y2="539.8" stroke="#000" stroke-width="2"/>
<line x1="241.0" y1="539.8" x2="241.0" y2="544.2" stroke="#000" stroke-width="1.5"/>
<text x="241.0" y="562.7" font-family="Liberation Sans" font-size="13.10" font-weight="normal" fill="#404040" text-anchor="middle" textLength="6.4" lengthAdjust="spacingAndGlyphs">0</text>
<line x1="305.1" y1="539.8" x2="305.1" y2="544.2" stroke="#000" stroke-width="1.5"/>
<text x="305.1" y="562.7" font-family="Liberation Sans" font-size="13.10" font-weight="normal" fill="#404040" text-anchor="middle" textLength="17.8" lengthAdjust="spacingAndGlyphs">0.2</text>
<line x1="369.2" y1="539.8" x2="369.2" y2="544.2" stroke="#000" stroke-width="1.5"/>
<text x="369.2" y="562.7" font-family="Liberation Sans" font-size="13.10" font-weight="normal" fill="#404040" text-anchor="middle" textLength="17.8" lengthAdjust="spacingAndGlyphs">0.4</text>
<line x1="433.4" y1="539.8" x2="433.4" y2="544.2" stroke="#000" stroke-width="1.5"/>
<text x="433.4" y="562.7" font-family="Liberation Sans" font-size="13.10" font-weight="normal" fill="#404040" text-anchor="middle" textLength="17.8" lengthAdjust="spacingAndGlyphs">0.6</text>
<line x1="497.5" y1="539.8" x2="497.5" y2="544.2" stroke="#000" stroke-width="1.5"/>
<text x="497.5" y="562.7" font-family="Liberation Sans" font-size="13.10" font-weight="normal" fill="#404040" text-anchor="middle" textLength="17.8" lengthAdjust="spacingAndGlyphs">0.8</text>
<line x1="561.6" y1="539.8" x2="561.6" y2="544.2" stroke="#000" stroke-width="1.5"/>
<text x="561.6" y="562.7" font-family="Liberation Sans" font-size="13.10" font-weight="normal" fill="#404040" text-anchor="middle" textLength="6.4" lengthAdjust="spacingAndGlyphs">1</text>
<line x1="236.8" y1="539.8" x2="241" y2="539.8" stroke="#000" stroke-width="1.5"/>
<text x="228.6" y="543.4" font-family="Liberation Sans" font-size="12.20" font-weight="normal" fill="#404040" text-anchor="end" textLength="6.5" lengthAdjust="spacingAndGlyphs">0</text>
<line x1="236.8" y1="493.2" x2="241" y2="493.2" stroke="#000" stroke-width="1.5"/>
<text x="228.6" y="496.8" font-family="Liberation Sans" font-size="12.20" font-weight="normal" fill="#404040" text-anchor="end" textLength="19.4" lengthAdjust="spacingAndGlyphs">200</text>
<line x1="236.8" y1="446.5" x2="241" y2="446.5" stroke="#000" stroke-width="1.5"/>
<text x="228.6" y="450.1" font-family="Liberation Sans" font-size="12.20" font-weight="normal" fill="#404040" text-anchor="end" textLength="19.4" lengthAdjust="spacingAndGlyphs">400</text>
<line x1="236.8" y1="399.9" x2="241" y2="399.9" stroke="#000" stroke-width="1.5"/>
<text x="228.6" y="403.5" font-family="Liberation Sans" font-size="12.20" font-weight="normal" fill="#404040" text-anchor="end" textLength="19.4" lengthAdjust="spacingAndGlyphs">600</text>
<line x1="236.8" y1="353.2" x2="241" y2="353.2" stroke="#000" stroke-width="1.5"/>
<text x="228.6" y="356.8" font-family="Liberation Sans" font-size="12.20" font-weight="normal" fill="#404040" text-anchor="end" textLength="19.4" lengthAdjust="spacingAndGlyphs">800</text>
<line x1="236.8" y1="306.6" x2="241" y2="306.6" stroke="#000" stroke-width="1.5"/>
<text x="228.6" y="310.2" font-family="Liberation Sans" font-size="12.20" font-weight="normal" fill="#404040" text-anchor="end" textLength="25.2" lengthAdjust="spacingAndGlyphs">1000</text>
<polyline points="535.3,321.6 523.2,323.4 507.4,325.2 473.2,327.4 408.6,330.8 352.0,334.5 322.0,337.5 320.8,343.0 318.8,373.0 313.7,377.0 307.0,382.3 299.3,386.3 290.9,390.5 281.6,394.8 272.3,398.8 264.0,403.0 257.0,407.2 251.6,411.3" fill="none" stroke="#1a37a6" stroke-width="1.5" stroke-linejoin="round" stroke-linecap="round"/>
<polyline points="241.6,489.0 241.6,485.4 241.6,481.8 241.6,478.2 241.6,474.6 241.6,471.0 241.6,467.4 241.6,463.8 241.6,460.2 241.6,456.6 241.6,453.0 241.6,449.4 241.6,445.8 241.6,442.2 241.6,438.6 241.8,433.0 242.4,429.4 244.0,425.4 246.4,421.4 248.8,416.2 252.0,413.0 256.8,409.8 264.0,405.0 273.2,401.0 280.8,397.6 290.0,393.4 298.4,389.2 305.6,384.4 314.0,379.6 316.4,374.8 318.5,371.5 320.3,369.0 320.5,365.0 320.3,361.5 320.3,358.1 320.3,354.6 320.3,350.3 320.4,345.9 320.6,341.5 321.1,338.1 324.5,336.7 328.0,336.4 331.5,336.0 334.9,335.5 338.4,335.5 341.9,335.5 352.3,333.8 369.6,332.4 385.2,331.5 401.7,330.8 417.3,330.3 433.7,329.1 449.4,328.4 465.6,327.9 482.2,326.6 498.0,326.1 513.2,325.6 529.0,323.8 538.9,322.5 557.4,316.2" fill="none" stroke="#1a37a6" stroke-width="1.8" stroke-linejoin="round" stroke-linecap="round"/>
<circle cx="535.3" cy="321.6" r="3.8" fill="#fff" stroke="#2f55b5" stroke-width="1.1"/>
<circle cx="523.2" cy="323.4" r="3.8" fill="#fff" stroke="#2f55b5" stroke-width="1.1"/>
<circle cx="507.4" cy="325.2" r="3.8" fill="#fff" stroke="#2f55b5" stroke-width="1.1"/>
<circle cx="473.2" cy="327.4" r="3.8" fill="#fff" stroke="#2f55b5" stroke-width="1.1"/>
<circle cx="408.6" cy="330.8" r="3.8" fill="#fff" stroke="#2f55b5" stroke-width="1.1"/>
<circle cx="352.0" cy="334.5" r="3.8" fill="#fff" stroke="#2f55b5" stroke-width="1.1"/>
<circle cx="322.0" cy="337.5" r="3.8" fill="#fff" stroke="#2f55b5" stroke-width="1.1"/>
<circle cx="320.8" cy="343.0" r="3.8" fill="#fff" stroke="#2f55b5" stroke-width="1.1"/>
<circle cx="318.8" cy="373.0" r="3.8" fill="#fff" stroke="#2f55b5" stroke-width="1.1"/>
<circle cx="313.7" cy="377.0" r="3.8" fill="#fff" stroke="#2f55b5" stroke-width="1.1"/>
<circle cx="307.0" cy="382.3" r="3.8" fill="#fff" stroke="#2f55b5" stroke-width="1.1"/>
<circle cx="299.3" cy="386.3" r="3.8" fill="#fff" stroke="#2f55b5" stroke-width="1.1"/>
<circle cx="290.9" cy="390.5" r="3.8" fill="#fff" stroke="#2f55b5" stroke-width="1.1"/>
<circle cx="281.6" cy="394.8" r="3.8" fill="#fff" stroke="#2f55b5" stroke-width="1.1"/>
<circle cx="272.3" cy="398.8" r="3.8" fill="#fff" stroke="#2f55b5" stroke-width="1.1"/>
<circle cx="264.0" cy="403.0" r="3.8" fill="#fff" stroke="#2f55b5" stroke-width="1.1"/>
<circle cx="257.0" cy="407.2" r="3.8" fill="#fff" stroke="#2f55b5" stroke-width="1.1"/>
<circle cx="251.6" cy="411.3" r="3.8" fill="#fff" stroke="#2f55b5" stroke-width="1.1"/>
<circle cx="241.6" cy="489.0" r="3.8" fill="#fff" stroke="#2f55b5" stroke-width="1.1"/>
<circle cx="241.6" cy="485.4" r="3.8" fill="#fff" stroke="#2f55b5" stroke-width="1.1"/>
<circle cx="241.6" cy="481.8" r="3.8" fill="#fff" stroke="#2f55b5" stroke-width="1.1"/>
<circle cx="241.6" cy="478.2" r="3.8" fill="#fff" stroke="#2f55b5" stroke-width="1.1"/>
<circle cx="241.6" cy="474.6" r="3.8" fill="#fff" stroke="#2f55b5" stroke-width="1.1"/>
<circle cx="241.6" cy="471.0" r="3.8" fill="#fff" stroke="#2f55b5" stroke-width="1.1"/>
<circle cx="241.6" cy="467.4" r="3.8" fill="#fff" stroke="#2f55b5" stroke-width="1.1"/>
<circle cx="241.6" cy="463.8" r="3.8" fill="#fff" stroke="#2f55b5" stroke-width="1.1"/>
<circle cx="241.6" cy="460.2" r="3.8" fill="#fff" stroke="#2f55b5" stroke-width="1.1"/>
<circle cx="241.6" cy="456.6" r="3.8" fill="#fff" stroke="#2f55b5" stroke-width="1.1"/>
<circle cx="241.6" cy="453.0" r="3.8" fill="#fff" stroke="#2f55b5" stroke-width="1.1"/>
<circle cx="241.6" cy="449.4" r="3.8" fill="#fff" stroke="#2f55b5" stroke-width="1.1"/>
<circle cx="241.6" cy="445.8" r="3.8" fill="#fff" stroke="#2f55b5" stroke-width="1.1"/>
<circle cx="241.6" cy="442.2" r="3.8" fill="#fff" stroke="#2f55b5" stroke-width="1.1"/>
<circle cx="241.6" cy="438.6" r="3.8" fill="#fff" stroke="#2f55b5" stroke-width="1.1"/>
<circle cx="241.8" cy="433.0" r="3.8" fill="#fff" stroke="#2f55b5" stroke-width="1.1"/>
<circle cx="242.4" cy="429.4" r="3.8" fill="#fff" stroke="#2f55b5" stroke-width="1.1"/>
<circle cx="244.0" cy="425.4" r="3.8" fill="#fff" stroke="#2f55b5" stroke-width="1.1"/>
<circle cx="246.4" cy="421.4" r="3.8" fill="#fff" stroke="#2f55b5" stroke-width="1.1"/>
<circle cx="248.8" cy="416.2" r="3.8" fill="#fff" stroke="#2f55b5" stroke-width="1.1"/>
<circle cx="252.0" cy="413.0" r="3.8" fill="#fff" stroke="#2f55b5" stroke-width="1.1"/>
<circle cx="256.8" cy="409.8" r="3.8" fill="#fff" stroke="#2f55b5" stroke-width="1.1"/>
<circle cx="264.0" cy="405.0" r="3.8" fill="#fff" stroke="#2f55b5" stroke-width="1.1"/>
<circle cx="273.2" cy="401.0" r="3.8" fill="#fff" stroke="#2f55b5" stroke-width="1.1"/>
<circle cx="280.8" cy="397.6" r="3.8" fill="#fff" stroke="#2f55b5" stroke-width="1.1"/>
<circle cx="290.0" cy="393.4" r="3.8" fill="#fff" stroke="#2f55b5" stroke-width="1.1"/>
<circle cx="298.4" cy="389.2" r="3.8" fill="#fff" stroke="#2f55b5" stroke-width="1.1"/>
<circle cx="305.6" cy="384.4" r="3.8" fill="#fff" stroke="#2f55b5" stroke-width="1.1"/>
<circle cx="314.0" cy="379.6" r="3.8" fill="#fff" stroke="#2f55b5" stroke-width="1.1"/>
<circle cx="316.4" cy="374.8" r="3.8" fill="#fff" stroke="#2f55b5" stroke-width="1.1"/>
<circle cx="318.5" cy="371.5" r="3.8" fill="#fff" stroke="#2f55b5" stroke-width="1.1"/>
<circle cx="320.3" cy="369.0" r="3.8" fill="#fff" stroke="#2f55b5" stroke-width="1.1"/>
<circle cx="320.5" cy="365.0" r="3.8" fill="#fff" stroke="#2f55b5" stroke-width="1.1"/>
<circle cx="320.3" cy="361.5" r="3.8" fill="#fff" stroke="#2f55b5" stroke-width="1.1"/>
<circle cx="320.3" cy="358.1" r="3.8" fill="#fff" stroke="#2f55b5" stroke-width="1.1"/>
<circle cx="320.3" cy="354.6" r="3.8" fill="#fff" stroke="#2f55b5" stroke-width="1.1"/>
<circle cx="320.3" cy="350.3" r="3.8" fill="#fff" stroke="#2f55b5" stroke-width="1.1"/>
<circle cx="320.4" cy="345.9" r="3.8" fill="#fff" stroke="#2f55b5" stroke-width="1.1"/>
<circle cx="320.6" cy="341.5" r="3.8" fill="#fff" stroke="#2f55b5" stroke-width="1.1"/>
<circle cx="321.1" cy="338.1" r="3.8" fill="#fff" stroke="#2f55b5" stroke-width="1.1"/>
<circle cx="324.5" cy="336.7" r="3.8" fill="#fff" stroke="#2f55b5" stroke-width="1.1"/>
<circle cx="328.0" cy="336.4" r="3.8" fill="#fff" stroke="#2f55b5" stroke-width="1.1"/>
<circle cx="331.5" cy="336.0" r="3.8" fill="#fff" stroke="#2f55b5" stroke-width="1.1"/>
<circle cx="334.9" cy="335.5" r="3.8" fill="#fff" stroke="#2f55b5" stroke-width="1.1"/>
<circle cx="338.4" cy="335.5" r="3.8" fill="#fff" stroke="#2f55b5" stroke-width="1.1"/>
<circle cx="341.9" cy="335.5" r="3.8" fill="#fff" stroke="#2f55b5" stroke-width="1.1"/>
<circle cx="352.3" cy="333.8" r="3.8" fill="#fff" stroke="#2f55b5" stroke-width="1.1"/>
<circle cx="369.6" cy="332.4" r="3.8" fill="#fff" stroke="#2f55b5" stroke-width="1.1"/>
<circle cx="385.2" cy="331.5" r="3.8" fill="#fff" stroke="#2f55b5" stroke-width="1.1"/>
<circle cx="401.7" cy="330.8" r="3.8" fill="#fff" stroke="#2f55b5" stroke-width="1.1"/>
<circle cx="417.3" cy="330.3" r="3.8" fill="#fff" stroke="#2f55b5" stroke-width="1.1"/>
<circle cx="433.7" cy="329.1" r="3.8" fill="#fff" stroke="#2f55b5" stroke-width="1.1"/>
<circle cx="449.4" cy="328.4" r="3.8" fill="#fff" stroke="#2f55b5" stroke-width="1.1"/>
<circle cx="465.6" cy="327.9" r="3.8" fill="#fff" stroke="#2f55b5" stroke-width="1.1"/>
<circle cx="482.2" cy="326.6" r="3.8" fill="#fff" stroke="#2f55b5" stroke-width="1.1"/>
<circle cx="498.0" cy="326.1" r="3.8" fill="#fff" stroke="#2f55b5" stroke-width="1.1"/>
<circle cx="513.2" cy="325.6" r="3.8" fill="#fff" stroke="#2f55b5" stroke-width="1.1"/>
<circle cx="529.0" cy="323.8" r="3.8" fill="#fff" stroke="#2f55b5" stroke-width="1.1"/>
<circle cx="538.9" cy="322.5" r="3.8" fill="#fff" stroke="#2f55b5" stroke-width="1.1"/>
<circle cx="557.4" cy="316.2" r="3.8" fill="#fff" stroke="#2f55b5" stroke-width="1.1"/>
<polyline points="535.3,350.4 523.6,351.3 507.4,352.6 474.1,354.4 409.5,358.1 352.0,361.6 323.0,363.5 322.2,368.0 322.4,390.0 318.0,395.5 311.0,399.5 302.5,404.0 294.0,408.0 285.0,412.0 276.5,415.0 268.0,418.3 261.0,421.7 253.0,426.8" fill="none" stroke="#ff0000" stroke-width="1.5" stroke-linejoin="round" stroke-linecap="round"/>
<polyline points="241.6,538.0 241.6,536.0 241.6,533.9 241.6,531.8 241.6,529.6 241.6,527.3 241.6,524.9 241.6,522.5 241.6,520.0 241.6,517.5 241.6,514.9 241.6,512.1 241.6,509.4 241.6,506.5 241.6,503.6 241.6,500.6 241.6,497.6 241.6,494.5 241.6,491.3 241.6,488.0 241.6,484.7 241.6,481.3 241.6,477.8 241.6,474.3 241.6,470.7 241.6,467.1 241.6,463.5 241.6,459.9 242.2,455.5 243.0,451.8 243.8,448.2 244.5,444.6 245.6,440.8 246.8,436.7 249.2,432.2 257.2,425.8 264.0,422.6 272.8,419.0 280.4,416.2 290.0,412.2 297.6,408.6 305.6,404.8 314.0,400.0 320.0,394.0 321.2,388.0 321.0,382.0 321.0,376.0 321.1,370.0 321.1,364.1 325.4,363.8 328.8,363.3 332.3,362.7 335.7,362.4 340.1,362.0 352.3,361.0 369.1,359.8 385.2,358.9 401.7,358.1 417.3,357.2 433.7,356.3 449.8,355.4 466.0,354.9 482.2,354.0 498.0,353.1 513.7,353.1 529.9,352.2 539.8,350.8 557.4,344.6" fill="none" stroke="#ff0000" stroke-width="1.8" stroke-linejoin="round" stroke-linecap="round"/>
<rect x="531.3" y="346.4" width="8.0" height="8.0" fill="#fff" stroke="#ff1a1a" stroke-width="1.1"/>
<rect x="519.6" y="347.3" width="8.0" height="8.0" fill="#fff" stroke="#ff1a1a" stroke-width="1.1"/>
<rect x="503.4" y="348.6" width="8.0" height="8.0" fill="#fff" stroke="#ff1a1a" stroke-width="1.1"/>
<rect x="470.1" y="350.4" width="8.0" height="8.0" fill="#fff" stroke="#ff1a1a" stroke-width="1.1"/>
<rect x="405.5" y="354.1" width="8.0" height="8.0" fill="#fff" stroke="#ff1a1a" stroke-width="1.1"/>
<rect x="348.0" y="357.6" width="8.0" height="8.0" fill="#fff" stroke="#ff1a1a" stroke-width="1.1"/>
<rect x="319.0" y="359.5" width="8.0" height="8.0" fill="#fff" stroke="#ff1a1a" stroke-width="1.1"/>
<rect x="318.2" y="364.0" width="8.0" height="8.0" fill="#fff" stroke="#ff1a1a" stroke-width="1.1"/>
<rect x="318.4" y="386.0" width="8.0" height="8.0" fill="#fff" stroke="#ff1a1a" stroke-width="1.1"/>
<rect x="314.0" y="391.5" width="8.0" height="8.0" fill="#fff" stroke="#ff1a1a" stroke-width="1.1"/>
<rect x="307.0" y="395.5" width="8.0" height="8.0" fill="#fff" stroke="#ff1a1a" stroke-width="1.1"/>
<rect x="298.5" y="400.0" width="8.0" height="8.0" fill="#fff" stroke="#ff1a1a" stroke-width="1.1"/>
<rect x="290.0" y="404.0" width="8.0" height="8.0" fill="#fff" stroke="#ff1a1a" stroke-width="1.1"/>
<rect x="281.0" y="408.0" width="8.0" height="8.0" fill="#fff" stroke="#ff1a1a" stroke-width="1.1"/>
<rect x="272.5" y="411.0" width="8.0" height="8.0" fill="#fff" stroke="#ff1a1a" stroke-width="1.1"/>
<rect x="264.0" y="414.3" width="8.0" height="8.0" fill="#fff" stroke="#ff1a1a" stroke-width="1.1"/>
<rect x="257.0" y="417.7" width="8.0" height="8.0" fill="#fff" stroke="#ff1a1a" stroke-width="1.1"/>
<rect x="249.0" y="422.8" width="8.0" height="8.0" fill="#fff" stroke="#ff1a1a" stroke-width="1.1"/>
<rect x="237.6" y="534.0" width="8.0" height="8.0" fill="#fff" stroke="#ff1a1a" stroke-width="1.1"/>
<rect x="237.6" y="532.0" width="8.0" height="8.0" fill="#fff" stroke="#ff1a1a" stroke-width="1.1"/>
<rect x="237.6" y="529.9" width="8.0" height="8.0" fill="#fff" stroke="#ff1a1a" stroke-width="1.1"/>
<rect x="237.6" y="527.8" width="8.0" height="8.0" fill="#fff" stroke="#ff1a1a" stroke-width="1.1"/>
<rect x="237.6" y="525.6" width="8.0" height="8.0" fill="#fff" stroke="#ff1a1a" stroke-width="1.1"/>
<rect x="237.6" y="523.3" width="8.0" height="8.0" fill="#fff" stroke="#ff1a1a" stroke-width="1.1"/>
<rect x="237.6" y="520.9" width="8.0" height="8.0" fill="#fff" stroke="#ff1a1a" stroke-width="1.1"/>
<rect x="237.6" y="518.5" width="8.0" height="8.0" fill="#fff" stroke="#ff1a1a" stroke-width="1.1"/>
<rect x="237.6" y="516.0" width="8.0" height="8.0" fill="#fff" stroke="#ff1a1a" stroke-width="1.1"/>
<rect x="237.6" y="513.5" width="8.0" height="8.0" fill="#fff" stroke="#ff1a1a" stroke-width="1.1"/>
<rect x="237.6" y="510.9" width="8.0" height="8.0" fill="#fff" stroke="#ff1a1a" stroke-width="1.1"/>
<rect x="237.6" y="508.1" width="8.0" height="8.0" fill="#fff" stroke="#ff1a1a" stroke-width="1.1"/>
<rect x="237.6" y="505.4" width="8.0" height="8.0" fill="#fff" stroke="#ff1a1a" stroke-width="1.1"/>
<rect x="237.6" y="502.5" width="8.0" height="8.0" fill="#fff" stroke="#ff1a1a" stroke-width="1.1"/>
<rect x="237.6" y="499.6" width="8.0" height="8.0" fill="#fff" stroke="#ff1a1a" stroke-width="1.1"/>
<rect x="237.6" y="496.6" width="8.0" height="8.0" fill="#fff" stroke="#ff1a1a" stroke-width="1.1"/>
<rect x="237.6" y="493.6" width="8.0" height="8.0" fill="#fff" stroke="#ff1a1a" stroke-width="1.1"/>
<rect x="237.6" y="490.5" width="8.0" height="8.0" fill="#fff" stroke="#ff1a1a" stroke-width="1.1"/>
<rect x="237.6" y="487.3" width="8.0" height="8.0" fill="#fff" stroke="#ff1a1a" stroke-width="1.1"/>
<rect x="237.6" y="484.0" width="8.0" height="8.0" fill="#fff" stroke="#ff1a1a" stroke-width="1.1"/>
<rect x="237.6" y="480.7" width="8.0" height="8.0" fill="#fff" stroke="#ff1a1a" stroke-width="1.1"/>
<rect x="237.6" y="477.3" width="8.0" height="8.0" fill="#fff" stroke="#ff1a1a" stroke-width="1.1"/>
<rect x="237.6" y="473.8" width="8.0" height="8.0" fill="#fff" stroke="#ff1a1a" stroke-width="1.1"/>
<rect x="237.6" y="470.3" width="8.0" height="8.0" fill="#fff" stroke="#ff1a1a" stroke-width="1.1"/>
<rect x="237.6" y="466.7" width="8.0" height="8.0" fill="#fff" stroke="#ff1a1a" stroke-width="1.1"/>
<rect x="237.6" y="463.1" width="8.0" height="8.0" fill="#fff" stroke="#ff1a1a" stroke-width="1.1"/>
<rect x="237.6" y="459.5" width="8.0" height="8.0" fill="#fff" stroke="#ff1a1a" stroke-width="1.1"/>
<rect x="237.6" y="455.9" width="8.0" height="8.0" fill="#fff" stroke="#ff1a1a" stroke-width="1.1"/>
<rect x="238.2" y="451.5" width="8.0" height="8.0" fill="#fff" stroke="#ff1a1a" stroke-width="1.1"/>
<rect x="239.0" y="447.8" width="8.0" height="8.0" fill="#fff" stroke="#ff1a1a" stroke-width="1.1"/>
<rect x="239.8" y="444.2" width="8.0" height="8.0" fill="#fff" stroke="#ff1a1a" stroke-width="1.1"/>
<rect x="240.5" y="440.6" width="8.0" height="8.0" fill="#fff" stroke="#ff1a1a" stroke-width="1.1"/>
<rect x="241.6" y="436.8" width="8.0" height="8.0" fill="#fff" stroke="#ff1a1a" stroke-width="1.1"/>
<rect x="242.8" y="432.7" width="8.0" height="8.0" fill="#fff" stroke="#ff1a1a" stroke-width="1.1"/>
<rect x="245.2" y="428.2" width="8.0" height="8.0" fill="#fff" stroke="#ff1a1a" stroke-width="1.1"/>
<rect x="253.2" y="421.8" width="8.0" height="8.0" fill="#fff" stroke="#ff1a1a" stroke-width="1.1"/>
<rect x="260.0" y="418.6" width="8.0" height="8.0" fill="#fff" stroke="#ff1a1a" stroke-width="1.1"/>
<rect x="268.8" y="415.0" width="8.0" height="8.0" fill="#fff" stroke="#ff1a1a" stroke-width="1.1"/>
<rect x="276.4" y="412.2" width="8.0" height="8.0" fill="#fff" stroke="#ff1a1a" stroke-width="1.1"/>
<rect x="286.0" y="408.2" width="8.0" height="8.0" fill="#fff" stroke="#ff1a1a" stroke-width="1.1"/>
<rect x="293.6" y="404.6" width="8.0" height="8.0" fill="#fff" stroke="#ff1a1a" stroke-width="1.1"/>
<rect x="301.6" y="400.8" width="8.0" height="8.0" fill="#fff" stroke="#ff1a1a" stroke-width="1.1"/>
<rect x="310.0" y="396.0" width="8.0" height="8.0" fill="#fff" stroke="#ff1a1a" stroke-width="1.1"/>
<rect x="316.0" y="390.0" width="8.0" height="8.0" fill="#fff" stroke="#ff1a1a" stroke-width="1.1"/>
<rect x="317.2" y="384.0" width="8.0" height="8.0" fill="#fff" stroke="#ff1a1a" stroke-width="1.1"/>
<rect x="317.0" y="378.0" width="8.0" height="8.0" fill="#fff" stroke="#ff1a1a" stroke-width="1.1"/>
<rect x="317.0" y="372.0" width="8.0" height="8.0" fill="#fff" stroke="#ff1a1a" stroke-width="1.1"/>
<rect x="317.1" y="366.0" width="8.0" height="8.0" fill="#fff" stroke="#ff1a1a" stroke-width="1.1"/>
<rect x="317.1" y="360.1" width="8.0" height="8.0" fill="#fff" stroke="#ff1a1a" stroke-width="1.1"/>
<rect x="321.4" y="359.8" width="8.0" height="8.0" fill="#fff" stroke="#ff1a1a" stroke-width="1.1"/>
<rect x="324.8" y="359.3" width="8.0" height="8.0" fill="#fff" stroke="#ff1a1a" stroke-width="1.1"/>
<rect x="328.3" y="358.7" width="8.0" height="8.0" fill="#fff" stroke="#ff1a1a" stroke-width="1.1"/>
<rect x="331.7" y="358.4" width="8.0" height="8.0" fill="#fff" stroke="#ff1a1a" stroke-width="1.1"/>
<rect x="336.1" y="358.0" width="8.0" height="8.0" fill="#fff" stroke="#ff1a1a" stroke-width="1.1"/>
<rect x="348.3" y="357.0" width="8.0" height="8.0" fill="#fff" stroke="#ff1a1a" stroke-width="1.1"/>
<rect x="365.1" y="355.8" width="8.0" height="8.0" fill="#fff" stroke="#ff1a1a" stroke-width="1.1"/>
<rect x="381.2" y="354.9" width="8.0" height="8.0" fill="#fff" stroke="#ff1a1a" stroke-width="1.1"/>
<rect x="397.7" y="354.1" width="8.0" height="8.0" fill="#fff" stroke="#ff1a1a" stroke-width="1.1"/>
<rect x="413.3" y="353.2" width="8.0" height="8.0" fill="#fff" stroke="#ff1a1a" stroke-width="1.1"/>
<rect x="429.7" y="352.3" width="8.0" height="8.0" fill="#fff" stroke="#ff1a1a" stroke-width="1.1"/>
<rect x="445.8" y="351.4" width="8.0" height="8.0" fill="#fff" stroke="#ff1a1a" stroke-width="1.1"/>
<rect x="462.0" y="350.9" width="8.0" height="8.0" fill="#fff" stroke="#ff1a1a" stroke-width="1.1"/>
<rect x="478.2" y="350.0" width="8.0" height="8.0" fill="#fff" stroke="#ff1a1a" stroke-width="1.1"/>
<rect x="494.0" y="349.1" width="8.0" height="8.0" fill="#fff" stroke="#ff1a1a" stroke-width="1.1"/>
<rect x="509.7" y="349.1" width="8.0" height="8.0" fill="#fff" stroke="#ff1a1a" stroke-width="1.1"/>
<rect x="525.9" y="348.2" width="8.0" height="8.0" fill="#fff" stroke="#ff1a1a" stroke-width="1.1"/>
<rect x="535.8" y="346.8" width="8.0" height="8.0" fill="#fff" stroke="#ff1a1a" stroke-width="1.1"/>
<rect x="553.4" y="340.6" width="8.0" height="8.0" fill="#fff" stroke="#ff1a1a" stroke-width="1.1"/>
<polyline points="240.5,540.0 241.5,537.5 243.2,535.6 246.0,534.4 250.0,533.6 260.0,533.3 280.0,533.0 300.0,532.8 312.0,532.5 330.0,529.8 353.0,529.2 385.0,528.6 417.0,527.6 450.0,526.6 482.0,525.6 513.0,523.2 540.0,520.2 557.0,508.0" fill="none" stroke="#00a14b" stroke-width="1.8" stroke-linejoin="round" stroke-linecap="round"/>
<polyline points="556.7,507.5 539.2,514.7 525.8,518.7 509.2,521.7 492.5,523.0 475.0,524.2 450.0,525.8 434.0,526.9 417.2,526.9 402.0,527.2 385.2,528.0 369.2,528.5 353.2,528.5 337.2,528.8 320.0,529.0 300.0,529.5 289.3,530.0 279.3,531.0 273.3,531.0 266.4,531.0 256.7,531.3 247.3,531.3 243.5,533.5 241.2,537.0" fill="none" stroke="#00a14b" stroke-width="1.6" stroke-linejoin="round" stroke-linecap="round"/>
<polygon points="240.9,534.6 236.7,542.2 245.1,542.2" fill="#fff" stroke="#1aab56" stroke-width="1.1"/>
<polygon points="241.6,532.6 237.4,540.2 245.8,540.2" fill="#fff" stroke="#1aab56" stroke-width="1.1"/>
<polygon points="243.0,530.8 238.8,538.4 247.2,538.4" fill="#fff" stroke="#1aab56" stroke-width="1.1"/>
<polygon points="245.0,529.4 240.8,537.0 249.2,537.0" fill="#fff" stroke="#1aab56" stroke-width="1.1"/>
<polygon points="247.6,528.4 243.4,536.0 251.8,536.0" fill="#fff" stroke="#1aab56" stroke-width="1.1"/>
<polygon points="251.0,527.8 246.8,535.4 255.2,535.4" fill="#fff" stroke="#1aab56" stroke-width="1.1"/>
<polygon points="256.7,527.4 252.5,535.0 260.9,535.0" fill="#fff" stroke="#1aab56" stroke-width="1.1"/>
<polygon points="266.4,527.1 262.2,534.7 270.6,534.7" fill="#fff" stroke="#1aab56" stroke-width="1.1"/>
<polygon points="272.8,527.1 268.6,534.7 277.0,534.7" fill="#fff" stroke="#1aab56" stroke-width="1.1"/>
<polygon points="277.0,527.0 272.8,534.6 281.2,534.6" fill="#fff" stroke="#1aab56" stroke-width="1.1"/>
<polygon points="279.7,527.0 275.5,534.6 283.9,534.6" fill="#fff" stroke="#1aab56" stroke-width="1.1"/>
<polygon points="289.3,526.4 285.1,534.0 293.5,534.0" fill="#fff" stroke="#1aab56" stroke-width="1.1"/>
<polygon points="292.5,525.9 288.3,533.5 296.7,533.5" fill="#fff" stroke="#1aab56" stroke-width="1.1"/>
<polygon points="295.5,525.9 291.3,533.5 299.7,533.5" fill="#fff" stroke="#1aab56" stroke-width="1.1"/>
<polygon points="298.5,525.9 294.3,533.5 302.7,533.5" fill="#fff" stroke="#1aab56" stroke-width="1.1"/>
<polygon points="301.5,525.9 297.3,533.5 305.7,533.5" fill="#fff" stroke="#1aab56" stroke-width="1.1"/>
<polygon points="304.5,525.9 300.3,533.5 308.7,533.5" fill="#fff" stroke="#1aab56" stroke-width="1.1"/>
<polygon points="307.5,525.9 303.3,533.5 311.7,533.5" fill="#fff" stroke="#1aab56" stroke-width="1.1"/>
<polygon points="310.5,525.9 306.3,533.5 314.7,533.5" fill="#fff" stroke="#1aab56" stroke-width="1.1"/>
<polygon points="313.5,525.9 309.3,533.5 317.7,533.5" fill="#fff" stroke="#1aab56" stroke-width="1.1"/>
<polygon points="316.5,525.9 312.3,533.5 320.7,533.5" fill="#fff" stroke="#1aab56" stroke-width="1.1"/>
<polygon points="319.5,525.9 315.3,533.5 323.7,533.5" fill="#fff" stroke="#1aab56" stroke-width="1.1"/>
<polygon points="322.5,525.9 318.3,533.5 326.7,533.5" fill="#fff" stroke="#1aab56" stroke-width="1.1"/>
<polygon points="325.5,525.9 321.3,533.5 329.7,533.5" fill="#fff" stroke="#1aab56" stroke-width="1.1"/>
<polygon points="328.5,525.9 324.3,533.5 332.7,533.5" fill="#fff" stroke="#1aab56" stroke-width="1.1"/>
<polygon points="331.5,525.9 327.3,533.5 335.7,533.5" fill="#fff" stroke="#1aab56" stroke-width="1.1"/>
<polygon points="334.5,525.9 330.3,533.5 338.7,533.5" fill="#fff" stroke="#1aab56" stroke-width="1.1"/>
<polygon points="337.5,525.9 333.3,533.5 341.7,533.5" fill="#fff" stroke="#1aab56" stroke-width="1.1"/>
<polygon points="353.2,525.2 349.0,532.8 357.4,532.8" fill="#fff" stroke="#1aab56" stroke-width="1.1"/>
<polygon points="369.2,525.0 365.0,532.6 373.4,532.6" fill="#fff" stroke="#1aab56" stroke-width="1.1"/>
<polygon points="385.2,524.5 381.0,532.1 389.4,532.1" fill="#fff" stroke="#1aab56" stroke-width="1.1"/>
<polygon points="402.0,523.7 397.8,531.3 406.2,531.3" fill="#fff" stroke="#1aab56" stroke-width="1.1"/>
<polygon points="409.2,524.4 405.0,532.0 413.4,532.0" fill="#fff" stroke="#1aab56" stroke-width="1.1"/>
<polygon points="417.2,523.4 413.0,531.0 421.4,531.0" fill="#fff" stroke="#1aab56" stroke-width="1.1"/>
<polygon points="434.0,523.4 429.8,531.0 438.2,531.0" fill="#fff" stroke="#1aab56" stroke-width="1.1"/>
<polygon points="450.0,522.3 445.8,529.9 454.2,529.9" fill="#fff" stroke="#1aab56" stroke-width="1.1"/>
<polygon points="465.8,521.5 461.6,529.1 470.0,529.1" fill="#fff" stroke="#1aab56" stroke-width="1.1"/>
<polygon points="475.0,520.7 470.8,528.3 479.2,528.3" fill="#fff" stroke="#1aab56" stroke-width="1.1"/>
<polygon points="480.8,521.5 476.6,529.1 485.0,529.1" fill="#fff" stroke="#1aab56" stroke-width="1.1"/>
<polygon points="492.5,519.5 488.3,527.1 496.7,527.1" fill="#fff" stroke="#1aab56" stroke-width="1.1"/>
<polygon points="496.7,520.7 492.5,528.3 500.9,528.3" fill="#fff" stroke="#1aab56" stroke-width="1.1"/>
<polygon points="509.2,518.2 505.0,525.8 513.4,525.8" fill="#fff" stroke="#1aab56" stroke-width="1.1"/>
<polygon points="513.3,519.0 509.1,526.6 517.5,526.6" fill="#fff" stroke="#1aab56" stroke-width="1.1"/>
<polygon points="525.8,515.2 521.6,522.8 530.0,522.8" fill="#fff" stroke="#1aab56" stroke-width="1.1"/>
<polygon points="528.3,517.2 524.1,524.8 532.5,524.8" fill="#fff" stroke="#1aab56" stroke-width="1.1"/>
<polygon points="538.3,516.2 534.1,523.8 542.5,523.8" fill="#fff" stroke="#1aab56" stroke-width="1.1"/>
<polygon points="539.2,511.2 535.0,518.8 543.4,518.8" fill="#fff" stroke="#1aab56" stroke-width="1.1"/>
<polygon points="556.7,504.0 552.5,511.6 560.9,511.6" fill="#fff" stroke="#1aab56" stroke-width="1.1"/>
<text x="244.2" y="322.9" font-family="Liberation Sans" font-size="16.40" font-weight="bold" fill="#000" text-anchor="start" textLength="18.3" lengthAdjust="spacingAndGlyphs">(c)</text>
<line x1="371" y1="410.8" x2="397.5" y2="410.8" stroke="#1a37a6" stroke-width="1.8"/>
<circle cx="384.1" cy="410.8" r="3.5" fill="#fff" stroke="#1a37a6" stroke-width="1.6"/>
<line x1="371" y1="440.6" x2="397.5" y2="440.6" stroke="#ff0000" stroke-width="1.8"/>
<rect x="380.2" y="436.5" width="8.2" height="8.2" fill="#fff" stroke="#ff0000" stroke-width="1.6"/>
<line x1="371" y1="471.2" x2="397.5" y2="471.2" stroke="#00a14b" stroke-width="1.8"/>
<polygon points="384,467 380.2,475 387.8,475" fill="#fff" stroke="#00a14b" stroke-width="1.6"/>
<text x="405.9" y="415.7" font-family="Liberation Sans" font-size="14.20" font-weight="normal" fill="#1a1a1a" text-anchor="start" textLength="56.1" lengthAdjust="spacingAndGlyphs">NU-1000</text>
<text x="405.9" y="445.8" font-family="Liberation Sans" font-size="14.20" font-weight="normal" fill="#1a1a1a" text-anchor="start" textLength="106.6" lengthAdjust="spacingAndGlyphs"><tspan>SiW</tspan><tspan font-size="11.08" dy="1.7">12</tspan><tspan dy="-1.7">@NU-1000</tspan></text>
<text x="403.7" y="476.5" font-family="Liberation Sans" font-size="14.20" font-weight="normal" fill="#1a1a1a" text-anchor="start" textLength="35.7" lengthAdjust="spacingAndGlyphs"><tspan>SiW</tspan><tspan font-size="11.08" dy="1.7">12</tspan></text>
<text x="318.0" y="587.6" font-family="Liberation Sans" font-size="14.50" font-weight="bold" fill="#000" text-anchor="start" textLength="160.8" lengthAdjust="spacingAndGlyphs">Relative Pressure (p/p°)</text>
<text x="186.2" y="528.1" font-family="Liberation Sans" font-size="14.30" font-weight="bold" fill="#000" text-anchor="start" textLength="211.0" lengthAdjust="spacingAndGlyphs" transform="rotate(-90 186.2 528.1)">Quantity Adsorbed (cm³/g STP)</text>
</svg>
</body></html>
